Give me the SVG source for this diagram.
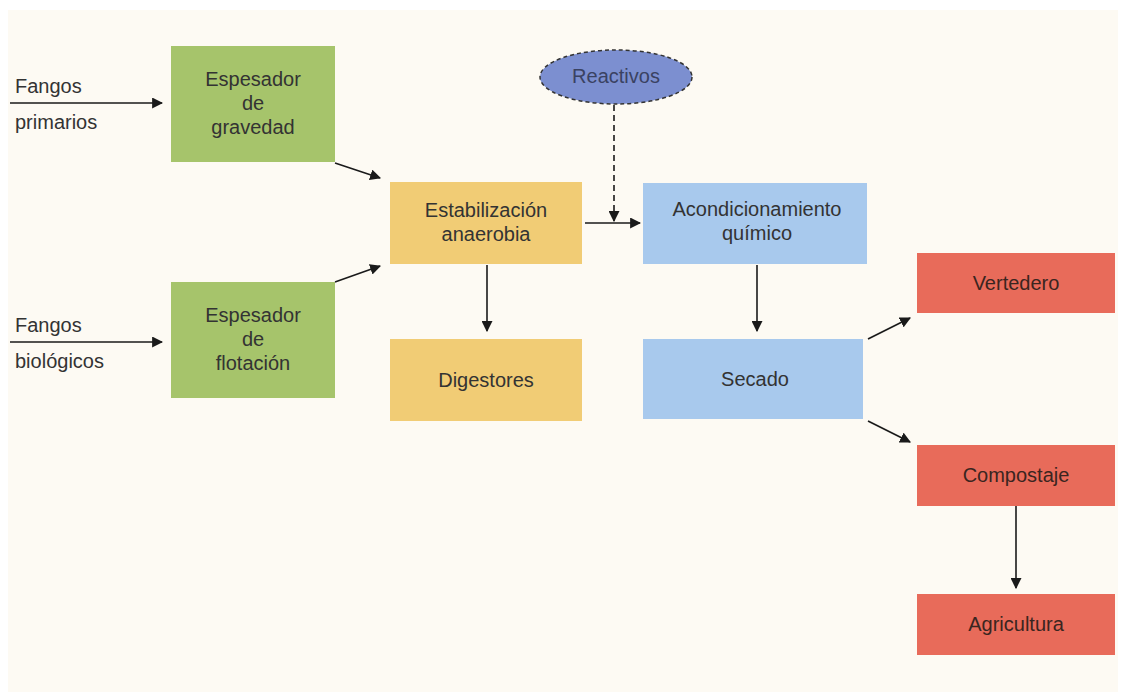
<svg xmlns="http://www.w3.org/2000/svg" width="1124" height="697" viewBox="0 0 1124 697">
<defs>
<style>
.t{font-family:"Liberation Sans",Arial,sans-serif;font-size:20px;fill:#333333;text-anchor:middle}
.l{font-family:"Liberation Sans",Arial,sans-serif;font-size:20px;fill:#333333}
.rt{fill:#3a2520}
.g{fill:#a6c46b}
.y{fill:#f1cc75}
.b{fill:#a8c9ed}
.r{fill:#e86b5a}
.c{stroke:#1a1a1a;stroke-width:1.6;fill:none;marker-end:url(#ah)}
</style>
<marker id="ah" viewBox="0 0 10 10" refX="9" refY="5" markerWidth="11" markerHeight="11" markerUnits="userSpaceOnUse" orient="auto">
<path d="M0,0 L10,5 L0,10 z" fill="#1a1a1a"/>
</marker>
</defs>
<rect x="0" y="0" width="1124" height="697" fill="#ffffff"/>
<rect x="8" y="10" width="1110" height="682" fill="#fdfaf3"/>
<g id="connectors">
<line class="c" x1="10" y1="103" x2="162" y2="103"/>
<line class="c" x1="10" y1="342" x2="162" y2="342"/>
<line class="c" x1="335" y1="163" x2="380" y2="178"/>
<line class="c" x1="335" y1="282" x2="380" y2="266"/>
<line class="c" x1="585" y1="223" x2="640" y2="223"/>
<line class="c" x1="614" y1="105" x2="614" y2="221" stroke-dasharray="6,4"/>
<line class="c" x1="487" y1="265" x2="487" y2="331"/>
<line class="c" x1="757" y1="265" x2="757" y2="331"/>
<line class="c" x1="868" y1="339" x2="910" y2="318"/>
<line class="c" x1="868" y1="421" x2="910" y2="442"/>
<line class="c" x1="1016" y1="506" x2="1016" y2="588"/>
</g>
<g id="label-primarios">
<text class="l" x="15" y="93">Fangos</text>
<text class="l" x="15" y="129">primarios</text>
</g>
<g id="label-biologicos">
<text class="l" x="15" y="332">Fangos</text>
<text class="l" x="15" y="368">biológicos</text>
</g>
<g id="espesador-gravedad">
<rect class="g" x="171" y="46" width="164" height="116"/>
<text class="t" x="253" y="86">Espesador</text>
<text class="t" x="253" y="110">de</text>
<text class="t" x="253" y="134">gravedad</text>
</g>
<g id="espesador-flotacion">
<rect class="g" x="171" y="282" width="164" height="116"/>
<text class="t" x="253" y="322">Espesador</text>
<text class="t" x="253" y="346">de</text>
<text class="t" x="253" y="370">flotación</text>
</g>
<g id="estabilizacion">
<rect class="y" x="390" y="182" width="192" height="82"/>
<text class="t" x="486" y="217">Estabilización</text>
<text class="t" x="486" y="241">anaerobia</text>
</g>
<g id="digestores">
<rect class="y" x="390" y="339" width="192" height="82"/>
<text class="t" x="486" y="387">Digestores</text>
</g>
<g id="reactivos">
<ellipse cx="616" cy="77" rx="76" ry="27" fill="#7c8fd0" stroke="#333" stroke-width="1.5" stroke-dasharray="4,3"/>
<text class="t" x="616" y="83" style="fill:#3a4262">Reactivos</text>
</g>
<g id="acondicionamiento">
<rect class="b" x="643" y="183" width="224" height="81"/>
<text class="t" x="757" y="216">Acondicionamiento</text>
<text class="t" x="757" y="240">químico</text>
</g>
<g id="secado">
<rect class="b" x="643" y="339" width="220" height="80"/>
<text class="t" x="755" y="386">Secado</text>
</g>
<g id="vertedero">
<rect class="r" x="917" y="253" width="198" height="60"/>
<text class="t rt" x="1016" y="290">Vertedero</text>
</g>
<g id="compostaje">
<rect class="r" x="917" y="445" width="198" height="61"/>
<text class="t rt" x="1016" y="482">Compostaje</text>
</g>
<g id="agricultura">
<rect class="r" x="917" y="594" width="198" height="61"/>
<text class="t rt" x="1016" y="631">Agricultura</text>
</g>
</svg>
